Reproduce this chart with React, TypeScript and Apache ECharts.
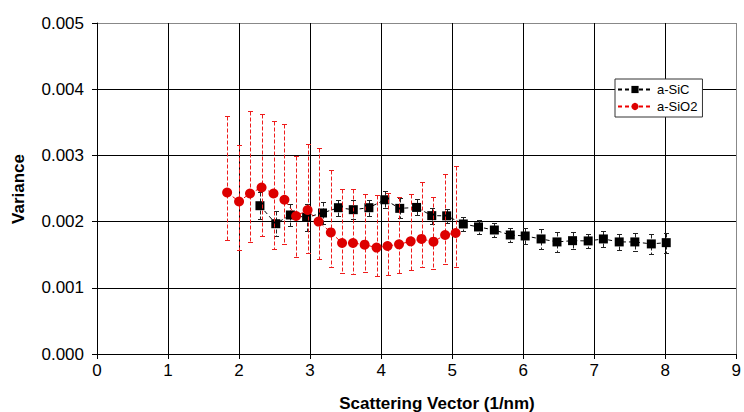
import React, { useEffect, useRef } from "react";
import * as echarts from "echarts";

const xTicks = [0, 1, 2, 3, 4, 5, 6, 7, 8, 9];
const yTicks = ["0.000", "0.001", "0.002", "0.003", "0.004", "0.005"];

const sicX = [2.294, 2.517, 2.723, 2.951, 3.175, 3.399, 3.608, 3.828, 4.052, 4.262, 4.499, 4.713, 4.923, 5.157, 5.371, 5.594, 5.818, 6.028, 6.252, 6.476, 6.695, 6.915, 7.129, 7.352, 7.572, 7.804, 8.014];
const sicY = [0.00224, 0.001968, 0.0021, 0.002063, 0.00213, 0.00221, 0.00218, 0.00221, 0.00233, 0.0022, 0.002214, 0.00209, 0.002087, 0.001964, 0.001919, 0.001873, 0.001798, 0.001783, 0.001738, 0.001693, 0.001712, 0.001708, 0.001738, 0.001693, 0.001693, 0.001663, 0.001682];
const sicErr = [0.0002, 0.00019, 0.00017, 0.0002, 0.00016, 0.00012, 0.00014, 0.00012, 0.00013, 0.00015, 0.00012, 0.00012, 0.00011, 0.00011, 0.0001, 0.00011, 0.0001, 0.000125, 0.000155, 0.00015, 0.00013, 0.000105, 0.00012, 0.000125, 0.00013, 0.00015, 0.00015];

const sio2X = [1.832, 2.0, 2.154, 2.317, 2.485, 2.639, 2.803, 2.965, 3.119, 3.292, 3.45, 3.604, 3.768, 3.936, 4.09, 4.252, 4.416, 4.569, 4.737, 4.901, 5.049];
const sio2Y = [0.00244, 0.002304, 0.002425, 0.002515, 0.002425, 0.00233, 0.002084, 0.002175, 0.002, 0.001837, 0.001677, 0.001677, 0.001652, 0.001607, 0.001632, 0.001657, 0.001702, 0.001738, 0.001697, 0.001798, 0.001828];
const sio2Upper = [0.003595, 0.003163, 0.003675, 0.00362, 0.003524, 0.003474, 0.002988, 0.003173, 0.003108, 0.002777, 0.002495, 0.002485, 0.002415, 0.002405, 0.00243, 0.00237, 0.00241, 0.002596, 0.00237, 0.002726, 0.002847];
const sio2Lower = [0.00172, 0.001566, 0.001687, 0.001788, 0.001592, 0.001657, 0.001467, 0.001521, 0.001441, 0.001321, 0.001226, 0.001205, 0.001245, 0.00118, 0.001195, 0.00123, 0.001265, 0.001321, 0.001286, 0.001361, 0.00131];

const FONT = "'Liberation Sans', Arial, sans-serif";

function errorRenderer(color: string) {
  return (params: any, api: any) => {
    const x = api.value(0);
    const lo = api.value(1);
    const hi = api.value(2);
    const top = api.coord([x, hi]);
    const bot = api.coord([x, lo]);
    const px = Math.round(top[0]) + 0.5;
    const ty = Math.round(top[1]) + 0.5;
    const by = Math.round(bot[1]) + 0.5;
    const hw = 2.5;
    return {
      type: "group",
      children: [
        { type: "line", shape: { x1: px, y1: ty, x2: px, y2: by }, style: { stroke: color, lineWidth: 1, lineDash: [4, 2] } },
        { type: "line", shape: { x1: px - hw, y1: ty, x2: px + hw, y2: ty }, style: { stroke: color, lineWidth: 1 } },
        { type: "line", shape: { x1: px - hw, y1: by, x2: px + hw, y2: by }, style: { stroke: color, lineWidth: 1 } },
      ],
    };
  };
}

export default function App() {
  const ref = useRef<HTMLDivElement>(null);
  useEffect(() => {
    document.body.style.margin = "0";
    const chart = echarts.init(ref.current!, null, { renderer: "svg" });
    const sicErrData = sicX.map((x, i) => [x, sicY[i] - sicErr[i], sicY[i] + sicErr[i]]);
    const sio2ErrData = sio2X.map((x, i) => [x, sio2Lower[i], sio2Upper[i]]);
    chart.setOption({
      animation: false,
      backgroundColor: "#fff",
      textStyle: { fontFamily: FONT },
      grid: { left: 97, right: 3, top: 23, bottom: 58, containLabel: false },
      xAxis: {
        type: "value",
        min: 0,
        max: 9,
        interval: 1,
        axisLine: { onZero: false, lineStyle: { color: "#000", width: 1 } },
        axisTick: { show: true, inside: false, length: 5, lineStyle: { color: "#000" } },
        axisLabel: { color: "#000", fontSize: 17, margin: 8, fontFamily: FONT, formatter: (v: number) => String(xTicks[Math.round(v)] ?? v) },
        splitLine: { show: true, lineStyle: { color: ["#000", "#000", "#000", "#000", "#000", "#000", "#000", "#000", "#000", "#888"], width: 1 } },
      },
      yAxis: {
        type: "value",
        min: 0,
        max: 0.005,
        interval: 0.001,
        axisLine: { show: true, onZero: false, lineStyle: { color: "#000", width: 1 } },
        axisTick: { show: true, inside: false, length: 5, lineStyle: { color: "#000" } },
        axisLabel: { color: "#000", fontSize: 17, margin: 13, fontFamily: FONT, formatter: (v: number) => yTicks[Math.round(v / 0.001)] ?? v.toFixed(3) },
        splitLine: { show: true, lineStyle: { color: ["#000", "#000", "#000", "#000", "#000", "#888"], width: 1 } },
      },
      legend: {
        orient: "vertical",
        left: 615,
        top: 79,
        backgroundColor: "#fff",
        borderColor: "#333",
        borderWidth: 1,
        borderRadius: 0,
        padding: [4, 5, 4, 2],
        itemGap: 4,
        itemWidth: 34,
        itemHeight: 9,
        textStyle: { fontSize: 13, color: "#000", fontFamily: FONT, lineHeight: 13 },
        data: ["a-SiC", "a-SiO2"],
      },
      graphic: [
        { type: "text", x: 18, y: 189, rotation: Math.PI / 2, style: { text: "Variance", font: `bold 17px ${FONT}`, fill: "#000", align: "center", verticalAlign: "middle" } },
        { type: "text", x: 437, y: 403, style: { text: "Scattering Vector (1/nm)", font: `bold 17px ${FONT}`, fill: "#000", align: "center", verticalAlign: "middle" } },
      ],
      series: [
        { type: "custom", name: "sicErr", renderItem: errorRenderer("#222"), data: sicErrData, encode: { x: 0, y: [1, 2] }, z: 2, silent: true },
        {
          type: "line",
          name: "a-SiC",
          data: sicX.map((x, i) => [x, sicY[i]]),
          symbol: "rect",
          symbolSize: 9,
          itemStyle: { color: "#000" },
          lineStyle: { color: "#000", width: 1, type: [4, 3] },
          z: 3,
        },
        { type: "custom", name: "sio2Err", renderItem: errorRenderer("#ee1c1c"), data: sio2ErrData, encode: { x: 0, y: [1, 2] }, z: 4, silent: true },
        {
          type: "line",
          name: "a-SiO2",
          data: sio2X.map((x, i) => [x, sio2Y[i]]),
          symbol: "circle",
          symbolSize: 10,
          itemStyle: { color: "#dd0000" },
          lineStyle: { color: "#ee0000", width: 1, type: [4, 3] },
          z: 5,
        },
      ],
    });
    return () => chart.dispose();
  }, []);
  return <div ref={ref} style={{ position: "fixed", left: 0, top: 0, width: 744, height: 412 }} />;
}
